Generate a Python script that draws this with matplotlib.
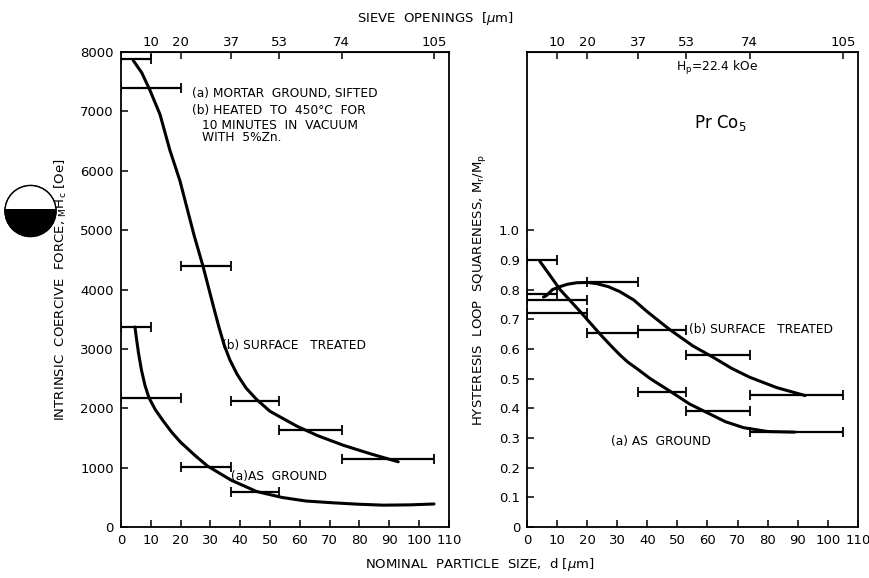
import matplotlib.pyplot as plt
from matplotlib.patches import Circle, Rectangle

# sieve openings marked along the top, micrometres
sieve_ticks = [10, 20, 37, 53, 74, 105]

# coercive force, Oe (each bar spans one sieve fraction)
hc_treated_lo = [0, 0, 20, 37, 53, 74]
hc_treated_hi = [10, 20, 37, 53, 74, 105]
hc_treated = [7880, 7400, 4400, 2120, 1640, 1150]
hc_ground_lo = [0, 0, 20, 37]
hc_ground_hi = [10, 20, 37, 53]
hc_ground = [3370, 2180, 1020, 600]

# hand-fitted curves through the coercive force data
hc_treated_curve_x = [4.1, 7, 9.7, 13.1, 16.4, 19.8, 24.5, 27.6, 31, 32.8, 34.6, 36.5, 39, 42, 45.5, 50, 59, 66, 74.5, 84, 93]
hc_treated_curve_y = [7860, 7650, 7360, 6950, 6350, 5830, 4920, 4380, 3720, 3380, 3070, 2820, 2570, 2340, 2150, 1950, 1700, 1540, 1380, 1230, 1100]
hc_ground_curve_x = [4.7, 5.2, 5.9, 6.9, 8.1, 9.4, 11.5, 14, 17, 20, 25, 29, 37, 45.5, 54, 62, 71, 80, 88, 97, 105]
hc_ground_curve_y = [3370, 3180, 2930, 2640, 2380, 2180, 1980, 1800, 1600, 1430, 1200, 1030, 790, 600, 500, 440, 410, 385, 370, 375, 390]

# loop squareness Mr/Mp
sq_treated_lo = [0, 0, 20, 37, 53, 74]
sq_treated_hi = [10, 20, 37, 53, 74, 105]
sq_treated = [0.785, 0.765, 0.825, 0.665, 0.58, 0.445]
sq_ground_lo = [0, 0, 20, 37, 53, 74]
sq_ground_hi = [10, 20, 37, 53, 74, 105]
sq_ground = [0.90, 0.72, 0.655, 0.455, 0.39, 0.32]

sq_treated_curve_x = [5.5, 6.5, 8.5, 11, 13.5, 16.5, 20, 23.2, 27, 30.9, 35.5, 39.8, 47.5, 55.2, 61.9, 68, 74, 83, 92.5]
sq_treated_curve_y = [0.775, 0.78, 0.8, 0.81, 0.818, 0.823, 0.824, 0.82, 0.81, 0.793, 0.765, 0.727, 0.665, 0.61, 0.572, 0.535, 0.505, 0.47, 0.443]
sq_ground_curve_x = [4.3, 7.5, 11, 17.6, 24.3, 28, 30.9, 33.5, 36.4, 41, 48, 54, 59, 66, 72, 80, 89]
sq_ground_curve_y = [0.895, 0.85, 0.8, 0.727, 0.65, 0.61, 0.58, 0.556, 0.535, 0.5, 0.455, 0.415, 0.39, 0.355, 0.335, 0.322, 0.32]

x_ticks = list(range(0, 111, 10))

plt.rcParams['font.family'] = 'DejaVu Sans'
plt.rcParams['mathtext.fontset'] = 'dejavusans'

fig = plt.figure(figsize=(8.7, 5.78), dpi=100)
ax1 = fig.add_axes([0.139, 0.088, 0.377, 0.822])
ax2 = fig.add_axes([0.6057, 0.088, 0.3803, 0.822])

lw_curve = 2.2
bar_kw = dict(fmt='none', ecolor='black', elinewidth=1.6, capsize=3.5, capthick=1.3)


def bar_args(lo, hi):
    mid = [(a + b) / 2 for a, b in zip(lo, hi)]
    half = [(b - a) / 2 for a, b in zip(lo, hi)]
    return mid, half


def style_axes(ax):
    ax.set_xlim(0, 110)
    ax.set_xticks(x_ticks)
    ax.set_xticklabels([str(v) for v in x_ticks])
    ax.tick_params(direction='in', length=5, width=1.1, labelsize=9.5, pad=5)
    for s in ax.spines.values():
        s.set_linewidth(1.3)
    top = ax.secondary_xaxis('top')
    top.set_xticks(sieve_ticks)
    top.set_xticklabels([str(v) for v in sieve_ticks])
    top.tick_params(direction='in', length=5, width=1.1, labelsize=9.5, pad=2)


# coercive force panel
style_axes(ax1)
ax1.set_ylim(0, 8000)
ax1.set_yticks(range(0, 8001, 1000))
ax1.plot(hc_treated_curve_x, hc_treated_curve_y, color='black', lw=lw_curve,
         solid_capstyle='round', solid_joinstyle='round')
ax1.plot(hc_ground_curve_x, hc_ground_curve_y, color='black', lw=lw_curve,
         solid_capstyle='round', solid_joinstyle='round')
m, h = bar_args(hc_treated_lo, hc_treated_hi)
ax1.errorbar(m, hc_treated, xerr=h, **bar_kw)
m, h = bar_args(hc_ground_lo, hc_ground_hi)
ax1.errorbar(m, hc_ground, xerr=h, **bar_kw)
ax1.set_ylabel(r'INTRINSIC  COERCIVE  FORCE, $_{\rm M}{\rm H}_{\rm c}$ [Oe]', fontsize=9.5, labelpad=8)

fs = 8.8
ax1.text(23.8, 7300, '(a) MORTAR  GROUND, SIFTED', fontsize=fs, va='center')
ax1.text(23.8, 7010, '(b) HEATED  TO  450°C  FOR', fontsize=fs, va='center')
ax1.text(27.3, 6660, '10 MINUTES  IN  VACUUM\nWITH  5%Zn.', fontsize=fs, va='center',
         linespacing=0.85)
ax1.text(33.8, 3050, '(b) SURFACE   TREATED', fontsize=fs, va='center')
ax1.text(37.0, 850, '(a)AS  GROUND', fontsize=fs, va='center')

# squareness panel
style_axes(ax2)
ax2.set_ylim(0, 1.6)
sq_ticks = [i / 10 for i in range(11)]
ax2.set_yticks(sq_ticks)
ax2.set_yticklabels(['0'] + ['%.1f' % v for v in sq_ticks[1:]])
ax2.plot(sq_treated_curve_x, sq_treated_curve_y, color='black', lw=lw_curve,
         solid_capstyle='round', solid_joinstyle='round')
ax2.plot(sq_ground_curve_x, sq_ground_curve_y, color='black', lw=lw_curve,
         solid_capstyle='round', solid_joinstyle='round')
m, h = bar_args(sq_treated_lo, sq_treated_hi)
ax2.errorbar(m, sq_treated, xerr=h, **bar_kw)
m, h = bar_args(sq_ground_lo, sq_ground_hi)
ax2.errorbar(m, sq_ground, xerr=h, **bar_kw)
ax2.set_ylabel(r'HYSTERESIS  LOOP  SQUARENESS, M$_{\rm r}$/M$_{\rm p}$', fontsize=9.5, labelpad=8)

ax2.text(49.5, 1.545, r'H$_{\rm p}$=22.4 kOe', fontsize=fs, va='center')
ax2.text(55.5, 1.36, r'Pr Co$_5$', fontsize=12, va='center')
ax2.text(53.8, 0.665, '(b) SURFACE   TREATED', fontsize=fs, va='center')
ax2.text(28.0, 0.288, '(a) AS  GROUND', fontsize=fs, va='center')

fig.text(0.5, 0.968, r'SIEVE  OPENINGS  [$\mu$m]', fontsize=9.5, ha='center', va='center')
fig.text(0.552, 0.023, r'NOMINAL  PARTICLE  SIZE,  d [$\mu$m]', fontsize=9.5, ha='center', va='center')

# punched hole in the page, left margin
hole = Circle((0.305, 3.67), 0.255, transform=fig.dpi_scale_trans, facecolor='black',
              edgecolor='black', lw=1.0)
fig.add_artist(hole)
cover = Rectangle((0.0, 3.69), 0.7, 0.4, transform=fig.dpi_scale_trans, facecolor='white',
                  edgecolor='none')
fig.add_artist(cover)
cover.set_clip_path(hole)
rim = Circle((0.305, 3.67), 0.255, transform=fig.dpi_scale_trans, facecolor='none',
             edgecolor='black', lw=1.0)
fig.add_artist(rim)

fig.savefig('out.png', dpi=100)
